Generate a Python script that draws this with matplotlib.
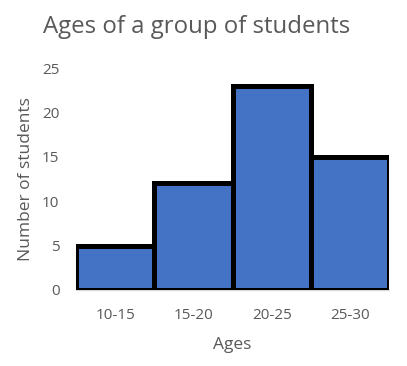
import matplotlib
matplotlib.use("Agg")
import matplotlib.pyplot as plt

categories = ["10-15", "15-20", "20-25", "25-30"]
counts = [5, 12, 23, 15]
yticks = [0, 5, 10, 15, 20, 25]

plt.rcParams['font.family'] = ['Open Sans', 'DejaVu Sans']
fig = plt.figure(figsize=(4.07, 3.66), dpi=100)
ax = fig.add_axes([0.187, 0.2077, 0.769, 0.6065])

x = list(range(len(categories)))
ax.bar(x, counts, width=1.0, color="#4472C4", edgecolor="black", linewidth=3.6, zorder=3)
ax.set_xlim(-0.5, len(categories) - 0.5)
ax.set_ylim(0, 25)
ax.set_yticks(yticks)
ax.set_xticks(x)
ax.set_xticklabels(categories)
for s in ["top", "right", "left"]:
    ax.spines[s].set_visible(False)
ax.spines["bottom"].set_color("#D9D9D9")
ax.spines["bottom"].set_linewidth(1)
ax.tick_params(axis="both", length=0, labelsize=11, colors="#595959")
ax.tick_params(axis="x", pad=13)
ax.tick_params(axis="y", pad=12)
ax.set_xlabel("Ages", fontsize=12.5, color="#595959", labelpad=10)
ax.set_ylabel("Number of students", fontsize=12.5, color="#595959", labelpad=6)
fig.text(43/407, 1 - 27/366, "Ages of a group of students", fontsize=17.3, color="#595959", va="center", ha="left")

fig.savefig("out.png", dpi=100)
